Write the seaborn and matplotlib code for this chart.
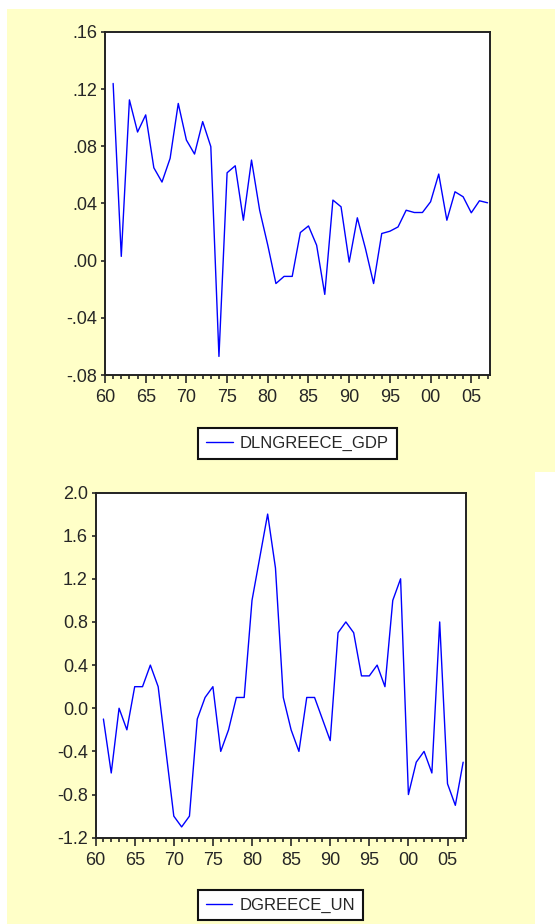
import numpy as np
import pandas as pd
import matplotlib
matplotlib.use("Agg")
import matplotlib.pyplot as plt
from matplotlib.patches import Rectangle
from matplotlib.ticker import FixedLocator, FuncFormatter
import seaborn as sns

# yearly data 1961-2007
years = list(range(1961, 2008))
dln_gdp = [0.124, 0.003, 0.1125, 0.090, 0.102, 0.065, 0.055, 0.0716, 0.110, 0.0844,
           0.0746, 0.0973, 0.0798, -0.067, 0.0615, 0.0664, 0.0283, 0.0704, 0.0353, 0.0108,
           -0.016, -0.011, -0.011, 0.0197, 0.0243, 0.0108, -0.0236, 0.0424, 0.0377, -0.001,
           0.030, 0.0084, -0.016, 0.019, 0.0206, 0.0236, 0.0353, 0.0337, 0.0337, 0.0412,
           0.0606, 0.0283, 0.0482, 0.0447, 0.0335, 0.0419, 0.0405]
d_un = [-0.1, -0.6, 0.0, -0.2, 0.2, 0.2, 0.4, 0.2, -0.4, -1.0,
        -1.1, -1.0, -0.1, 0.1, 0.2, -0.4, -0.2, 0.1, 0.1, 1.0,
        1.4, 1.8, 1.3, 0.1, -0.2, -0.4, 0.1, 0.1, -0.1, -0.3,
        0.7, 0.8, 0.7, 0.3, 0.3, 0.4, 0.2, 1.0, 1.2, -0.8,
        -0.5, -0.4, -0.6, 0.8, -0.7, -0.9, -0.5]

gdp_ticks = [-0.08, -0.04, 0.0, 0.04, 0.08, 0.12, 0.16]
un_ticks = [-1.2, -0.8, -0.4, 0.0, 0.4, 0.8, 1.2, 1.6, 2.0]
year_ticks = list(range(1960, 2010, 5))

df = pd.DataFrame({"year": years, "DLNGREECE_GDP": dln_gdp, "DGREECE_UN": d_un})

sns.set_style("ticks")
plt.rcParams['font.family'] = ['Liberation Sans', 'DejaVu Sans']

W, H = 555, 924
fig = plt.figure(figsize=(W / 100, H / 100), dpi=100, facecolor="white")

yellow = "#FFFFC8"
# background panels (pixel boxes converted to figure fractions)
fig.add_artist(Rectangle((7 / W, 1 - 472 / H), (W - 7) / W, (472 - 9) / H,
                         transform=fig.transFigure, facecolor=yellow, edgecolor="none", zorder=0))
fig.add_artist(Rectangle((7 / W, 0), (534.5 - 7) / W, 1 - 472 / H,
                         transform=fig.transFigure, facecolor=yellow, edgecolor="none", zorder=0))


def year_fmt(v, pos):
    return f"{int(round(v)) % 100:02d}"


def gdp_fmt(v, pos):
    s = f"{v:.2f}"
    return s.replace("0.", ".", 1)


def un_fmt(v, pos):
    return f"{v:.1f}"


def style_axes(ax, yticks, yfmt, ylim):
    ax.set_facecolor("white")
    ax.set_xlim(1960, 2007.3)
    ax.set_ylim(*ylim)
    ax.xaxis.set_major_locator(FixedLocator(year_ticks))
    ax.xaxis.set_minor_locator(FixedLocator(list(range(1960, 2008))))
    ax.xaxis.set_major_formatter(FuncFormatter(year_fmt))
    ax.yaxis.set_major_locator(FixedLocator(yticks))
    ax.yaxis.set_major_formatter(FuncFormatter(yfmt))
    ax.tick_params(axis="x", which="major", length=6, width=1.2, pad=4, labelsize=13, direction="out")
    ax.tick_params(axis="x", which="minor", length=3, width=1.2, direction="out")
    ax.tick_params(axis="y", which="major", length=3, width=1.2, pad=2.5, labelsize=13, direction="out")
    ax.tick_params(axis="y", which="minor", length=0)
    for side in ["top", "right", "left", "bottom"]:
        ax.spines[side].set_visible(True)
        ax.spines[side].set_color("#222222")
        ax.spines[side].set_linewidth(1.4)
    ax.set_xlabel("")
    ax.set_ylabel("")


# top panel
ax1 = fig.add_axes([105 / W, 1 - 375 / H, (490 - 105) / W, (375 - 32) / H])
sns.lineplot(data=df, x="year", y="DLNGREECE_GDP", ax=ax1, color="#0000FF",
             linewidth=1.0, label="DLNGREECE_GDP")
style_axes(ax1, gdp_ticks, gdp_fmt, (-0.08, 0.16))

# bottom panel
ax2 = fig.add_axes([95.6 / W, 1 - 837.7 / H, (465.5 - 95.6) / W, (837.7 - 492.5) / H])
sns.lineplot(data=df, x="year", y="DGREECE_UN", ax=ax2, color="#0000FF",
             linewidth=1.0, label="DGREECE_UN")
style_axes(ax2, un_ticks, un_fmt, (-1.2, 2.0))

for ax, cx, cy in [(ax1, 297.5, 443.5), (ax2, 280.5, 905)]:
    ax.get_legend().remove()
    leg = fig.legend(handles=ax.get_lines()[:1], labels=[ax.get_lines()[0].get_label()],
                     loc="center", bbox_to_anchor=(cx / W, 1 - cy / H),
                     bbox_transform=fig.transFigure, fontsize=12, frameon=True,
                     fancybox=False, handlelength=1.6, handletextpad=0.45,
                     borderpad=0.45, borderaxespad=0)
    frame = leg.get_frame()
    frame.set_edgecolor("#111111")
    frame.set_linewidth(1.5)
    frame.set_facecolor("white")
    frame.set_alpha(1)

fig.savefig("out.png", dpi=100, facecolor=fig.get_facecolor())
